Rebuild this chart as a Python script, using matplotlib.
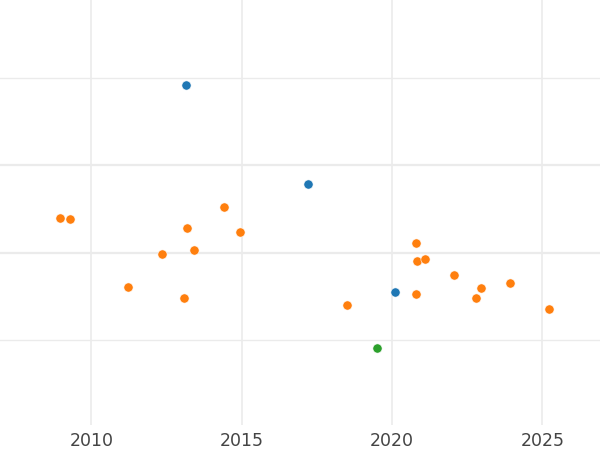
import numpy as np
import matplotlib.pyplot as plt
from matplotlib.ticker import FixedLocator, NullFormatter

# values (y on arbitrary units, gridlines at 1..4)
blue_year = [2013.16, 2017.21, 2020.11]
blue_val = [3.92, 2.79, 1.55]

green_year = [2019.50]
green_val = [0.91]

orange_year = [2008.97, 2009.28, 2011.21, 2012.34, 2013.08, 2013.19, 2013.42,
               2014.41, 2014.95, 2018.52, 2020.80, 2020.82, 2021.11, 2020.81,
               2022.07, 2022.96, 2022.80, 2023.91, 2025.22]
orange_val = [2.40, 2.38, 1.61, 1.98, 1.48, 2.28, 2.03,
              2.52, 2.24, 1.40, 2.11, 1.90, 1.93, 1.53,
              1.74, 1.59, 1.48, 1.65, 1.36]

xticks = [2010, 2015, 2020, 2025]
major_y = [2, 3]
minor_y = [1, 4]

fig = plt.figure(figsize=(6, 4.5), dpi=100)
ax = fig.add_axes([0, 25 / 450, 1, 425 / 450])

grid_c = '#ebebeb'
for x in xticks:
    ax.axvline(x, color=grid_c, lw=1.2, zorder=0)
for y in major_y:
    ax.axhline(y, color=grid_c, lw=1.6, zorder=0)
for y in minor_y:
    ax.axhline(y, color=grid_c, lw=1.0, zorder=0)

kw = dict(s=44, edgecolors='white', linewidths=0.4, zorder=3)
ax.scatter(orange_year, orange_val, color='#ff7f0e', **kw)
ax.scatter(blue_year, blue_val, color='#1f77b4', **kw)
ax.scatter(green_year, green_val, color='#2ca02c', **kw)

ax.set_xlim(2006.96, 2026.92)
ax.set_ylim(0.026, 4.894)

ax.set_xticks(xticks)
ax.set_xticklabels([str(t) for t in xticks])
ax.tick_params(axis='x', length=0, pad=5, labelsize=12.5, labelcolor='#444444')
ax.yaxis.set_major_locator(FixedLocator(major_y))
ax.yaxis.set_major_formatter(NullFormatter())
ax.tick_params(axis='y', length=0)

for s in ax.spines.values():
    s.set_visible(False)

fig.savefig('out.png', dpi=100)
